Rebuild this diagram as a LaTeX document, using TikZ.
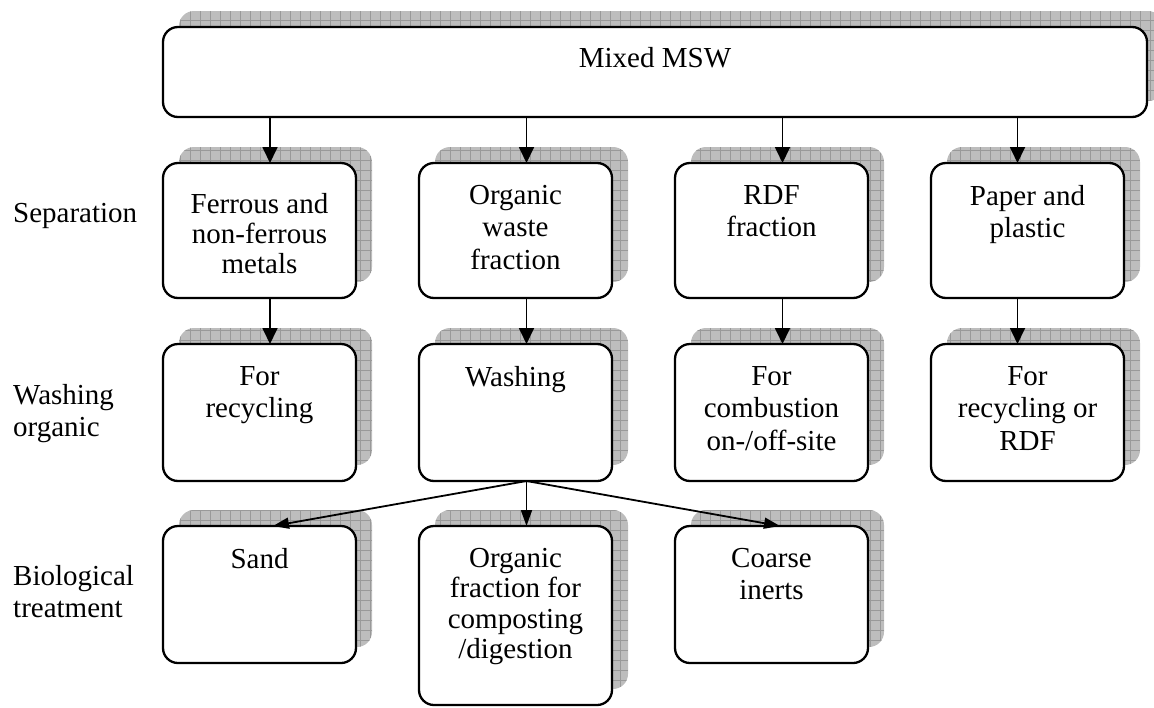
\documentclass[tikz,border=0pt]{standalone}
\usepackage{fontspec}
\setmainfont{Liberation Serif}
\usetikzlibrary{arrows.meta,backgrounds}

\begin{document}
\begin{tikzpicture}[
  x=1pt, y=-1pt,
  line cap=round,
  line join=round,
  font=\fontsize{29}{32.5}\selectfont,
  box/.style={draw=black, line width=2.3pt, rounded corners=15pt, fill=white,
    minimum width=193pt, minimum height=137pt, inner sep=0pt, outer sep=0pt},
  wide/.style={box, minimum width=984pt, minimum height=90pt},
  boxtext/.style={anchor=north, align=center, inner sep=0pt},
  rowlabel/.style={align=left, inner sep=0pt},
  flow/.style={-{Triangle[length=16pt,width=15pt]}, line width=1.8pt, draw=black},
  fanflow/.style={flow, -{Triangle[length=16pt,width=11pt]}},
  shade/.style={fill=black!26, rounded corners=15pt,
    path picture={\draw[black!40, line width=0.8pt]
      (path picture bounding box.south west) grid[step=10pt]
      (path picture bounding box.north east);}}
]

\useasboundingbox (0,0) rectangle (1154,707);

% Top box.
\node[wide] (mix) at (655,72) {};
\node[anchor=base, inner sep=0pt] (mix-t) at (655,67) {Mixed MSW};

% Separation row.
\node[box, minimum height=135pt] (fer) at (259.5,230.5) {};
\node[box, minimum height=135pt] (org) at (515.5,230.5) {};
\node[box, minimum height=135pt] (rdf) at (771.5,230.5) {};
\node[box, minimum height=135pt] (pap) at (1027.5,230.5) {};

% Washing row.
\node[box] (rec)  at (259.5,412.5) {};
\node[box] (wash) at (515.5,412.5) {};
\node[box] (comb) at (771.5,412.5) {};
\node[box] (rdfr) at (1027.5,412.5) {};

% Biological treatment row.
\node[box] (sand)  at (259.5,594.5) {};
\node[box, minimum height=179pt] (orgf) at (515.5,615.5) {};
\node[box] (inert) at (771.5,594.5) {};

% Shadows.
\begin{pgfonlayer}{background}
\foreach \n in {mix,fer,org,rdf,pap,rec,wash,comb,rdfr,sand,orgf,inert}{
  \fill[shade] ([shift={(16pt,16pt)}]\n.south west) rectangle ([shift={(16pt,16pt)}]\n.north east);
}
\end{pgfonlayer}

% Box texts.
\node[boxtext, font=\fontsize{29}{30}\selectfont] (fer-t) at ([yshift=-30pt]fer.north)
  {Ferrous and\\non-ferrous\\metals};
\node[boxtext] (org-t) at ([yshift=-22pt]org.north) {Organic\\waste\\fraction};
\node[boxtext] (rdf-t) at ([yshift=-22pt]rdf.north) {RDF\\fraction};
\node[boxtext] (pap-t) at ([yshift=-22pt]pap.north) {Paper and\\plastic};

\node[boxtext] (rec-t)  at ([yshift=-22pt]rec.north)  {For\\recycling};
\node[boxtext] (wash-t) at ([yshift=-22pt]wash.north) {Washing};
\node[boxtext] (comb-t) at ([yshift=-22pt]comb.north) {For\\combustion\\on-/off-site};
\node[boxtext] (rdfr-t) at ([yshift=-22pt]rdfr.north) {For\\recycling or\\RDF};

\node[boxtext] (sand-t)  at ([yshift=-22pt]sand.north)  {Sand};
\node[boxtext, font=\fontsize{29}{30.5}\selectfont] (orgf-t) at ([yshift=-22pt]orgf.north)
  {Organic\\fraction for\\composting\\/digestion};
\node[boxtext] (inert-t) at ([yshift=-22pt]inert.north) {Coarse\\inerts};

% Row labels.
\node[rowlabel, anchor=base west] (sep-l) at (13,222) {Separation};
\node[rowlabel, anchor=north west] (wash-l) at (13,384) {Washing\\organic};
\node[rowlabel, anchor=north west] (bio-l) at (13,565) {Biological\\treatment};

% Connectors.
\draw[flow] ([xshift=10.5pt]fer.north |- mix.south) -- ([xshift=10.5pt]fer.north);
\draw[flow] ([xshift=11pt]org.north |- mix.south) -- ([xshift=11pt]org.north);
\draw[flow] ([xshift=11pt]rdf.north |- mix.south) -- ([xshift=11pt]rdf.north);
\draw[flow] ([xshift=-10pt]pap.north |- mix.south) -- ([xshift=-10pt]pap.north);

\draw[flow] ([xshift=10.5pt]fer.south) -- ([xshift=10.5pt]rec.north);
\draw[flow] ([xshift=11pt]org.south) -- ([xshift=11pt]wash.north);
\draw[flow] ([xshift=11pt]rdf.south) -- ([xshift=11pt]comb.north);
\draw[flow] ([xshift=-10pt]pap.south) -- ([xshift=-10pt]rdfr.north);

\coordinate (fan) at ([xshift=11pt]wash.south);
\draw[fanflow] (fan) -- ([xshift=13.5pt]sand.north);
\draw[fanflow] (fan) -- ([xshift=11pt]orgf.north);
\draw[fanflow] (fan) -- ([xshift=8.5pt]inert.north);

\end{tikzpicture}
\end{document}
